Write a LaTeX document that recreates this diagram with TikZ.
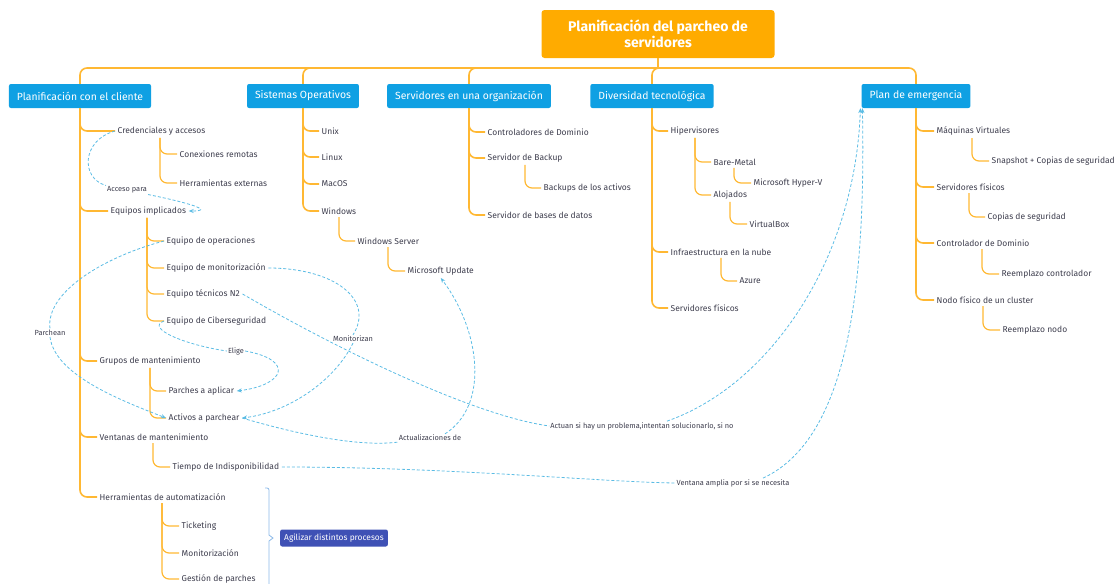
\documentclass[tikz,border=0pt]{standalone}
\usepackage{fontspec}
\setmainfont{Fira Sans}
\usetikzlibrary{arrows.meta,positioning}

\definecolor{mapOrange}{HTML}{FFAB00}
\definecolor{lineOrange}{HTML}{FFB833}
\definecolor{topicBlue}{HTML}{0FA0E3}
\definecolor{linkBlue}{HTML}{5BBCE4}
\definecolor{noteBlue}{HTML}{3F51B5}
\definecolor{braceBlue}{HTML}{8AB8E8}
\definecolor{textGray}{HTML}{3D3D4D}

\begin{document}
\begin{tikzpicture}[
x=1pt, y=-1pt,
font=\fontsize{8.5}{9}\selectfont,
central/.style={rectangle, fill=mapOrange, rounded corners=3pt, text=white, font=\fontsize{14}{16}\selectfont\bfseries, align=center, minimum width=233pt, minimum height=48pt},
topic/.style={rectangle, fill=topicBlue, rounded corners=2pt, text=white, font=\fontsize{10.4}{11}\selectfont, minimum height=24pt, inner xsep=8pt},
leaf/.style={anchor=west, text=textGray, inner sep=2.5pt},
note/.style={rectangle, fill=noteBlue, rounded corners=2pt, text=white, font=\fontsize{8.4}{9}\selectfont, minimum height=17pt, inner xsep=4pt},
tag/.style={text=textGray, font=\fontsize{7.4}{8}\selectfont, inner sep=1pt},
trunk/.style={draw=lineOrange, line width=1.6pt, rounded corners=7pt},
branch/.style={draw=lineOrange, line width=1.2pt, rounded corners=7pt},
link/.style={draw=linkBlue, line width=0.8pt, dash pattern=on 3pt off 2pt},
linkto/.style={link, -{Stealth[length=5pt,width=4pt]}},
summary/.style={draw=braceBlue, line width=0.8pt}
]
\useasboundingbox (0,0) rectangle (1120,584);

\node[central] (root) at (658,34) {Planificación del parcheo de\\servidores};

\node[topic] (cliente) at (80,96) {Planificación con el cliente};
\node[topic] (sisop) at (303,96) {Sistemas Operativos};
\node[topic] (servorg) at (469,96) {Servidores en una organización};
\node[topic] (diver) at (652,96) {Diversidad tecnológica};
\node[topic] (emerg) at (916,96) {Plan de emergencia};

\coordinate (bar) at (658,68);

% planificacion con el cliente
\node[leaf] (cred) at (115,131) {Credenciales y accesos};
\node[leaf] (conex) at (177,154) {Conexiones remotas};
\node[leaf] (herrext) at (177,183) {Herramientas externas};
\node[leaf] (equipos) at (108,211) {Equipos implicados};
\node[leaf] (eqop) at (164,241) {Equipo de operaciones};
\node[leaf] (eqmon) at (164,268) {Equipo de monitorización};
\node[leaf] (eqn2) at (164,294) {Equipo técnicos N2};
\node[leaf] (eqciber) at (164,321) {Equipo de Ciberseguridad};
\node[leaf] (grupos) at (97,361) {Grupos de mantenimiento};
\node[leaf] (parches) at (166,391) {Parches a aplicar};
\node[leaf] (activos) at (166,418) {Activos a parchear};
\node[leaf] (ventanas) at (97,437) {Ventanas de mantenimiento};
\node[leaf] (tiempo) at (170,467) {Tiempo de Indisponibilidad};
\node[leaf] (herraut) at (97,497) {Herramientas de automatización};
\node[leaf] (ticket) at (179,526) {Ticketing};
\node[leaf] (monit) at (179,553) {Monitorización};
\node[leaf] (gestion) at (179,579) {Gestión de parches};

\node[note] (agilizar) at (334,538) {Agilizar distintos procesos};

% sistemas operativos
\node[leaf] (unix) at (319,131) {Unix};
\node[leaf] (linux) at (319,157) {Linux};
\node[leaf] (macos) at (319,184) {MacOS};
\node[leaf] (windows) at (319,211) {Windows};
\node[leaf] (winserver) at (355,241) {Windows Server};
\node[leaf] (msupdate) at (405,271) {Microsoft Update};

% servidores en una organizacion
\node[leaf] (ctrldom) at (485,132) {Controladores de Dominio};
\node[leaf] (backup) at (485,158) {Servidor de Backup};
\node[leaf] (backups) at (541,188) {Backups de los activos};
\node[leaf] (basesdatos) at (485,215) {Servidor de bases de datos};

% diversidad tecnologica
\node[leaf] (hiperv) at (668,131) {Hipervisores};
\node[leaf] (baremetal) at (711,162) {Bare-Metal};
\node[leaf] (hyperv) at (751,183) {Microsoft Hyper-V};
\node[leaf] (alojados) at (711,195) {Alojados};
\node[leaf] (vbox) at (747,224) {VirtualBox};
\node[leaf] (nube) at (668,252) {Infraestructura en la nube};
\node[leaf] (azure) at (737,281) {Azure};
\node[leaf] (fisicosdiv) at (668,308) {Servidores físicos};

% plan de emergencia
\node[leaf] (mv) at (934,131) {Máquinas Virtuales};
\node[leaf] (snapshot) at (989,161) {Snapshot + Copias de seguridad};
\node[leaf] (fisicosem) at (934,187) {Servidores físicos};
\node[leaf] (copias) at (985,217) {Copias de seguridad};
\node[leaf] (ctrldomem) at (934,243) {Controlador de Dominio};
\node[leaf] (reemctrl) at (999,274) {Reemplazo controlador};
\node[leaf] (nodo) at (934,300) {Nodo físico de un cluster};
\node[leaf] (reemnodo) at (1000,330) {Reemplazo nodo};

% relation labels
\node[tag] (lblacceso) at (127,190) {Acceso para};
\node[tag] (lblparch) at (50,333) {Parchean};
\node[tag] (lblmon) at (353,339) {Monitorizan};
\node[tag] (lblelige) at (236,351) {Elige};
\node[tag] (lblactuan) at (642,426) {Actuan si hay un problema,intentan solucionarlo, si no};
\node[tag] (lblactu) at (430,438) {Actualizaciones de};
\node[tag] (lblventana) at (733,483) {Ventana amplia por si se necesita};

\draw[trunk] (root.south) -- (bar);
\draw[trunk] (cliente.north) |- (bar);
\draw[trunk] (sisop.north) |- (bar);
\draw[trunk] (servorg.north) |- (bar);
\draw[trunk] (diver.north) |- (bar);
\draw[trunk] (emerg.north) |- (bar);

\draw[trunk] (cliente.south) |- (cred.west);
\draw[trunk] (cliente.south) |- (equipos.west);
\draw[trunk] (cliente.south) |- (grupos.west);
\draw[trunk] (cliente.south) |- (ventanas.west);
\draw[trunk] (cliente.south) |- (herraut.west);
\draw[branch] ([xshift=45pt]cred.south west) |- (conex.west);
\draw[branch] ([xshift=45pt]cred.south west) |- (herrext.west);
\draw[branch] ([xshift=39pt]equipos.south west) |- (eqop.west);
\draw[branch] ([xshift=39pt]equipos.south west) |- (eqmon.west);
\draw[branch] ([xshift=39pt]equipos.south west) |- (eqn2.west);
\draw[branch] ([xshift=39pt]equipos.south west) |- (eqciber.west);
\draw[branch] ([xshift=53pt]grupos.south west) |- (parches.west);
\draw[branch] ([xshift=53pt]grupos.south west) |- (activos.west);
\draw[branch] ([xshift=56pt]ventanas.south west) |- (tiempo.west);
\draw[branch] ([xshift=65pt]herraut.south west) |- (ticket.west);
\draw[branch] ([xshift=65pt]herraut.south west) |- (monit.west);
\draw[branch] ([xshift=65pt]herraut.south west) |- (gestion.west);

\draw[trunk] (sisop.south) |- (unix.west);
\draw[trunk] (sisop.south) |- (linux.west);
\draw[trunk] (sisop.south) |- (macos.west);
\draw[trunk] (sisop.south) |- (windows.west);
\draw[branch] ([xshift=20pt]windows.south west) |- (winserver.west);
\draw[branch] ([xshift=33pt]winserver.south west) |- (msupdate.west);

\draw[trunk] (servorg.south) |- (ctrldom.west);
\draw[trunk] (servorg.south) |- (backup.west);
\draw[trunk] (servorg.south) |- (basesdatos.west);
\draw[branch] ([xshift=40pt]backup.south west) |- (backups.west);

\draw[trunk] (diver.south) |- (hiperv.west);
\draw[trunk] (diver.south) |- (nube.west);
\draw[trunk] (diver.south) |- (fisicosdiv.west);
\draw[branch] ([xshift=27pt]hiperv.south west) |- (baremetal.west);
\draw[branch] ([xshift=27pt]hiperv.south west) |- (alojados.west);
\draw[branch] ([xshift=23pt]baremetal.south west) |- (hyperv.west);
\draw[branch] ([xshift=19pt]alojados.south west) |- (vbox.west);
\draw[branch] ([xshift=53pt]nube.south west) |- (azure.west);

\draw[trunk] (emerg.south) |- (mv.west);
\draw[trunk] (emerg.south) |- (fisicosem.west);
\draw[trunk] (emerg.south) |- (ctrldomem.west);
\draw[trunk] (emerg.south) |- (nodo.west);
\draw[branch] ([xshift=38pt]mv.south west) |- (snapshot.west);
\draw[branch] ([xshift=35pt]fisicosem.south west) |- (copias.west);
\draw[branch] ([xshift=48pt]ctrldomem.south west) |- (reemctrl.west);
\draw[branch] ([xshift=49pt]nodo.south west) |- (reemnodo.west);

\draw[summary] (265,488) -- (267,488) arc[start angle=90, end angle=0, radius=2pt] -- (269,535) -- (273,538) -- (269,541) -- (269,590);

\draw[link] (cred.west) .. controls (82,140) and (80,178) .. (lblacceso.north west);
\draw[linkto] (lblacceso.south east) .. controls (190,203) and (215,211) .. (equipos.east);

\draw[link] (eqop.west) .. controls (110,255) and (45,290) .. (lblparch.north);
\draw[linkto] (lblparch.south) .. controls (55,375) and (120,400) .. (activos.west);

\draw[link] (eqmon.east) .. controls (335,268) and (375,300) .. (lblmon.north);
\draw[linkto] (lblmon.south) .. controls (335,380) and (290,412) .. (activos.east);

\draw[link] (eqciber.west) .. controls (145,328) and (185,345) .. (lblelige.west);
\draw[linkto] (lblelige.east) .. controls (295,360) and (285,385) .. (parches.east);

\draw[link] (eqn2.east) .. controls (330,345) and (470,415) .. (lblactuan.west);
\draw[linkto] ([xshift=25pt]lblactuan.north) .. controls (770,385) and (855,260) .. ([xshift=-1pt]emerg.south west);

\draw[link] (activos.east) .. controls (300,435) and (360,447) .. (lblactu.south west);
\draw[linkto] ([xshift=15pt]lblactu.north) .. controls (490,405) and (480,330) .. (msupdate.south);

\draw[link] (tiempo.east) .. controls (450,467) and (600,482) .. (lblventana.west);
\draw[linkto] ([xshift=30pt]lblventana.north) .. controls (845,440) and (866,300) .. ([xshift=1pt]emerg.south west);

\end{tikzpicture}
\end{document}
